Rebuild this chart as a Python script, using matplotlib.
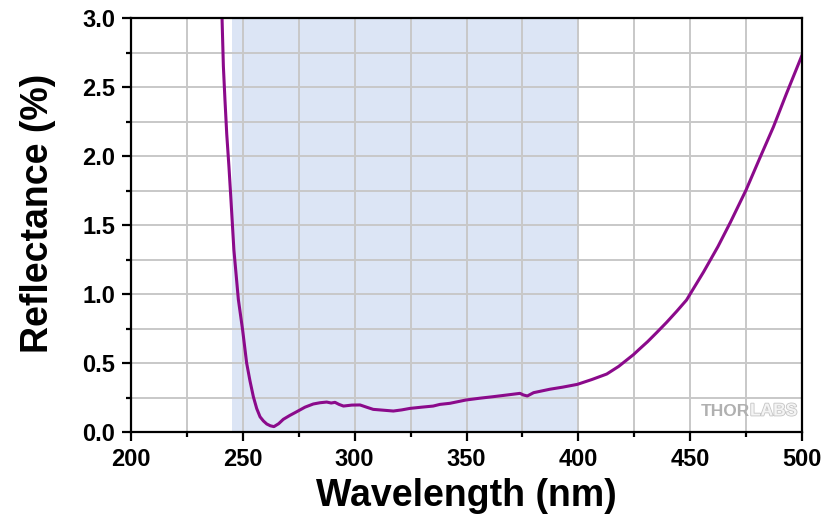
import matplotlib
matplotlib.use("Agg")
import matplotlib.pyplot as plt
import matplotlib.patheffects as pe
from matplotlib.ticker import MultipleLocator

wavelength = [240.0, 240.7, 241.3, 242.0, 242.8, 243.8, 244.7, 246.0, 248.0, 249.9,
              251.7, 253.2, 254.7, 256.2, 257.7, 259.2, 260.7, 262.3, 263.9, 266.0,
              268.1, 271.0, 274.1, 277.8, 281.5, 284.5, 287.5, 289.5, 291.2, 293.0,
              295.0, 298.7, 302.4, 305.3, 308.3, 312.8, 317.3, 321.0, 324.7, 330.0,
              335.1, 338.1, 342.6, 349.8, 356.0, 362.0, 368.0, 373.9, 375.5, 377.2,
              380.0, 387.3, 393.0, 399.5, 406.0, 412.7, 418.0, 424.6, 427.6, 431.0,
              435.0, 439.5, 444.0, 448.4, 450.0, 456.0, 462.4, 468.0, 475.0, 481.0,
              487.2, 493.0, 500.0]
reflectance = [3.3, 3.0, 2.65, 2.41, 2.16, 1.92, 1.68, 1.32, 0.96, 0.74,
               0.50, 0.37, 0.256, 0.17, 0.11, 0.08, 0.058, 0.045, 0.039, 0.06,
               0.092, 0.12, 0.147, 0.18, 0.203, 0.212, 0.217, 0.210, 0.215, 0.200,
               0.188, 0.195, 0.196, 0.180, 0.164, 0.158, 0.152, 0.160, 0.171, 0.180,
               0.188, 0.200, 0.208, 0.232, 0.245, 0.256, 0.268, 0.280, 0.268, 0.261,
               0.285, 0.310, 0.325, 0.345, 0.38, 0.42, 0.475, 0.56, 0.605, 0.655,
               0.72, 0.795, 0.875, 0.957, 1.0, 1.16, 1.343, 1.52, 1.754, 1.98,
               2.21, 2.45, 2.73]
band = (245, 400)
x_ticks = [200, 250, 300, 350, 400, 450, 500]
y_ticks = [0.0, 0.5, 1.0, 1.5, 2.0, 2.5, 3.0]

plt.rcParams['font.family'] = ['Liberation Sans', 'DejaVu Sans']

fig = plt.figure(figsize=(8.27, 5.14), dpi=100)
ax = fig.add_axes([131/827, 82/514, 671/827, 414/514])

ax.axvspan(band[0], band[1], color='#dce5f5', zorder=0, lw=0)
ax.plot(wavelength, reflectance, color='#8b0a8b', lw=2.2, zorder=3)

ax.set_xlim(200, 500)
ax.set_ylim(0, 3.0)
ax.set_xticks(x_ticks)
ax.set_yticks(y_ticks)
ax.set_yticklabels([f"{v:.1f}" for v in y_ticks])
ax.xaxis.set_minor_locator(MultipleLocator(25))
ax.yaxis.set_minor_locator(MultipleLocator(0.25))
ax.grid(True, which='both', color='#c8c8c8', lw=1.4, zorder=1)
ax.set_axisbelow(True)

for s in ax.spines.values():
    s.set_linewidth(1.6)
    s.set_color('black')
    s.set_zorder(4)

ax.tick_params(which='major', direction='out', length=6.5, width=1.6,
               labelsize=17, pad=5)
ax.tick_params(which='minor', direction='out', length=3.6, width=1.6)
for lab in ax.get_xticklabels() + ax.get_yticklabels():
    lab.set_fontweight('bold')

ax.set_xlabel('Wavelength (nm)', fontsize=27, fontweight='bold')
ax.set_ylabel('Reflectance (%)', fontsize=27, fontweight='bold')
ax.xaxis.set_label_coords(0.5, -0.112)
ax.yaxis.set_label_coords(-0.112, 0.527)

ax.text(0.9225, 0.0507, 'THOR', transform=ax.transAxes, fontsize=12.5,
        fontweight='bold', color='#b0b0b0', ha='right', va='center', zorder=5)
ax.text(0.9225, 0.0507, 'LABS', transform=ax.transAxes, fontsize=12.5,
        fontweight='bold', color='#f4f4f4', ha='left', va='center', zorder=5,
        path_effects=[pe.withStroke(linewidth=1.2, foreground='#c4c4c4')])

fig.savefig('out.png', dpi=100)
